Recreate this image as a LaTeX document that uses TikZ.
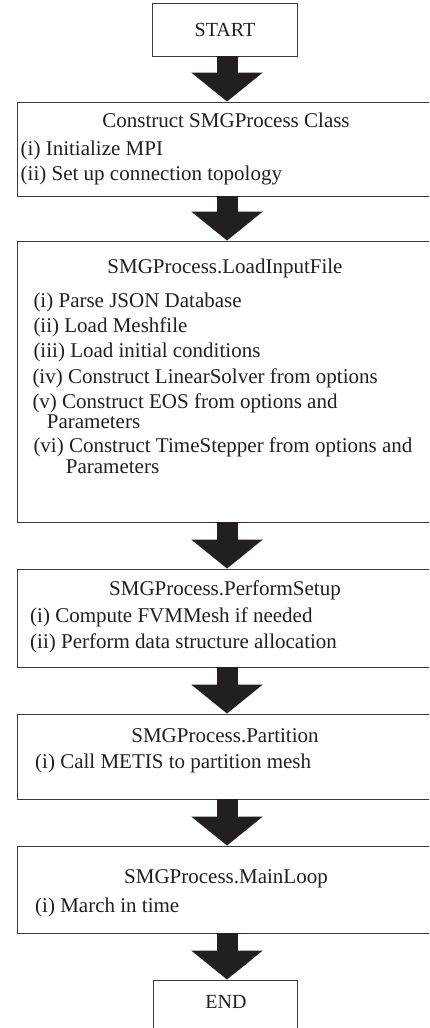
\documentclass[tikz,border=0pt]{standalone}
\usepackage{fontspec}
\setmainfont{Liberation Serif}
\usetikzlibrary{arrows.meta}
\definecolor{ink}{HTML}{231F20}
\definecolor{boxline}{HTML}{3A3A3A}
\begin{document}
\begin{tikzpicture}[x=1pt,y=-1pt,
  box/.style={draw=boxline, line width=0.9pt, rectangle, inner sep=0pt},
  txt/.style={font=\fontsize{21}{24}\selectfont, text=ink, inner sep=0pt, anchor=base west},
  ttl/.style={font=\fontsize{21}{24}\selectfont, text=ink, inner sep=0pt, anchor=base},
  term/.style={font=\fontsize{20}{24}\selectfont, text=ink, inner sep=0pt, anchor=base},
  fat/.style={draw=ink, line width=21pt, -{Triangle[width=70pt,length=29pt,fill=ink]}}]
\useasboundingbox (0,0) rectangle (429,1028);
\clip (0,0) rectangle (429,1028);
\fill[white] (0,0) rectangle (429,1028);
% boxes
\node[box, minimum width=145pt, minimum height=53pt] (start) at (224.5,29.5) {};
\node[box, minimum width=420pt, minimum height=94pt] (b1) at (227,149) {};
\node[box, minimum width=420pt, minimum height=281pt] (b2) at (227,381.5) {};
\node[box, minimum width=420pt, minimum height=98pt] (b3) at (227,618) {};
\node[box, minimum width=420pt, minimum height=85pt] (b4) at (227,756.5) {};
\node[box, minimum width=420pt, minimum height=87pt] (b5) at (227,889.5) {};
\node[box, minimum width=144pt, minimum height=60pt] (end) at (225,1010) {};
% texts
\node[term] (tstart) at (225,36) {START};
\node[ttl] (t1) at (226,127) {Construct SMGProcess Class};
\node[txt] (t1a) at (20.5,155) {(i) Initialize MPI};
\node[txt] (t1b) at (20.5,180) {(ii) Set up connection topology};
\node[ttl] (t2) at (225,273) {SMGProcess.LoadInputFile};
\node[txt] (t2a) at (33.3,307) {(i) Parse JSON Database};
\node[txt] (t2b) at (33.3,332) {(ii) Load Meshfile};
\node[txt] (t2c) at (33.3,357) {(iii) Load initial conditions};
\node[txt] (t2d) at (32.3,383) {(iv) Construct LinearSolver from options};
\node[txt] (t2e) at (32.3,408) {(v) Construct EOS from options and};
\node[txt] (t2f) at (46.7,428) {Parameters};
\node[txt] (t2g) at (33.3,452) {(vi) Construct TimeStepper from options and};
\node[txt] (t2h) at (65.7,473) {Parameters};
\node[ttl] (t3) at (225,595) {SMGProcess.PerformSetup};
\node[txt] (t3a) at (30,622) {(i) Compute FVMMesh if needed};
\node[txt] (t3b) at (30,648) {(ii) Perform data structure allocation};
\node[ttl] (t4) at (225,742) {SMGProcess.Partition};
\node[txt] (t4a) at (35,768) {(i) Call METIS to partition mesh};
\node[ttl] (t5) at (226,883) {SMGProcess.MainLoop};
\node[txt] (t5a) at (35,912) {(i) March in time};
\node[term] (tend) at (226,1008) {END};
% arrows
\draw[fat] (start.south -| b1.north) -- (b1.north);
\draw[fat] (b1.south) -- (b2.north);
\draw[fat] (b2.south) -- (b3.north);
\draw[fat] (b3.south) -- (b4.north);
\draw[fat] (b4.south) -- (b5.north);
\draw[fat] (b5.south) -- (b5.south |- end.north);
\end{tikzpicture}
\end{document}
